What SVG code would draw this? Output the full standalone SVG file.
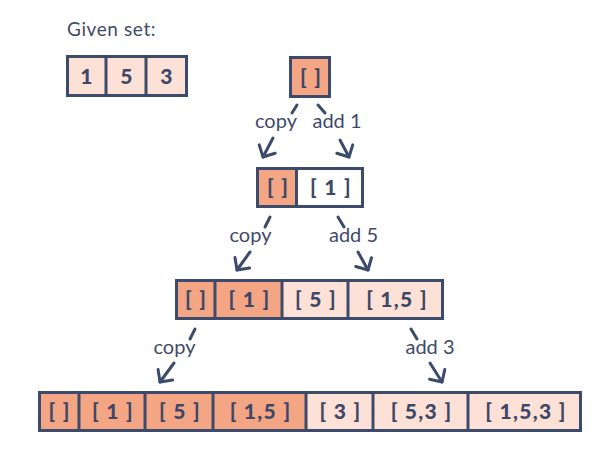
<svg xmlns="http://www.w3.org/2000/svg" width="615" height="460" viewBox="0 0 615 460">
<style>
.box{stroke:#3c4a6b;stroke-width:3;}
.dk{fill:#f4a584;}
.lt{fill:#fde1d7;}
.wh{fill:#ffffff;}
.div{stroke:#3c4a6b;stroke-width:3;}
.cell{font-family:Lato,"Open Sans","Liberation Sans",sans-serif;font-weight:900;font-size:21px;fill:#3d4868;text-anchor:middle;letter-spacing:1.3px;}
.lbl{font-family:Lato,"Open Sans","Liberation Sans",sans-serif;font-size:20px;fill:#3f4a6b;text-anchor:middle;}
.ttl{font-family:Lato,"Open Sans","Liberation Sans",sans-serif;font-size:19px;fill:#3f4a6b;letter-spacing:0.6px;}
.ar{stroke:#3c4a6b;stroke-width:3;stroke-linecap:round;fill:none;}
</style>
<defs>
<marker id="ah" markerUnits="userSpaceOnUse" markerWidth="24" markerHeight="24" refX="0" refY="0" viewBox="-12 -12 24 24" orient="auto" overflow="visible">
<path d="M-9,-9 L0,0 L-9,9" fill="none" stroke="#3c4a6b" stroke-width="3" stroke-linecap="round" stroke-linejoin="round"/>
</marker>
</defs>
<rect width="615" height="460" fill="#ffffff"/>
<text class="ttl" x="67" y="36">Given set:</text>

<g id="given">
<rect class="box lt" x="67.5" y="56.5" width="119" height="39"/>
<line class="div" x1="106" y1="56.5" x2="106" y2="95.5"/>
<line class="div" x1="146" y1="56.5" x2="146" y2="95.5"/>
<text class="cell" x="87" y="83.5">1</text>
<text class="cell" x="127" y="83.5">5</text>
<text class="cell" x="167" y="83.5">3</text>
</g>

<g id="row1">
<rect class="box dk" x="290.5" y="57.5" width="39" height="39"/>
<text class="cell" x="311" y="84.5">[ ]</text>
</g>

<g id="row2">
<rect class="box dk" x="257.5" y="168.5" width="39" height="38"/>
<rect class="box wh" x="296.5" y="168.5" width="66" height="38"/>
<text class="cell" x="278" y="195">[ ]</text>
<text class="cell" x="331" y="195">[ 1 ]</text>
</g>

<g id="row3">
<rect class="box lt" x="176.5" y="280.5" width="266" height="38"/>
<rect class="dk" x="178" y="282" width="104" height="35"/>
<line class="div" x1="215" y1="280.5" x2="215" y2="318.5"/>
<line class="div" x1="282" y1="280.5" x2="282" y2="318.5"/>
<line class="div" x1="348" y1="280.5" x2="348" y2="318.5"/>
<text class="cell" x="196" y="307">[ ]</text>
<text class="cell" x="249.5" y="307">[ 1 ]</text>
<text class="cell" x="316" y="307">[ 5 ]</text>
<text class="cell" x="397" y="307">[ 1,5 ]</text>
</g>

<g id="row4">
<rect class="box lt" x="39.5" y="392.5" width="541" height="38"/>
<rect class="dk" x="41" y="394" width="265" height="35"/>
<line class="div" x1="79" y1="392.5" x2="79" y2="430.5"/>
<line class="div" x1="145" y1="392.5" x2="145" y2="430.5"/>
<line class="div" x1="213" y1="392.5" x2="213" y2="430.5"/>
<line class="div" x1="306" y1="392.5" x2="306" y2="430.5"/>
<line class="div" x1="373" y1="392.5" x2="373" y2="430.5"/>
<line class="div" x1="468" y1="392.5" x2="468" y2="430.5"/>
<text class="cell" x="59.5" y="419">[ ]</text>
<text class="cell" x="113" y="419">[ 1 ]</text>
<text class="cell" x="180" y="419">[ 5 ]</text>
<text class="cell" x="260.5" y="419">[ 1,5 ]</text>
<text class="cell" x="340.5" y="419">[ 3 ]</text>
<text class="cell" x="421.5" y="419">[ 5,3 ]</text>
<text class="cell" x="526" y="419">[ 1,5,3 ]</text>
</g>

<g id="connectors">
<line class="ar" x1="297" y1="105" x2="292" y2="113"/>
<line class="ar" x1="273" y1="138" x2="263" y2="157" marker-end="url(#ah)"/>
<line class="ar" x1="318" y1="105" x2="325" y2="113"/>
<line class="ar" x1="340" y1="140" x2="349" y2="157" marker-end="url(#ah)"/>
<line class="ar" x1="270" y1="217" x2="265" y2="227"/>
<line class="ar" x1="250" y1="252" x2="237" y2="270" marker-end="url(#ah)"/>
<line class="ar" x1="338" y1="217" x2="344" y2="227"/>
<line class="ar" x1="358" y1="252" x2="368" y2="270" marker-end="url(#ah)"/>
<line class="ar" x1="195" y1="329" x2="190" y2="339"/>
<line class="ar" x1="174" y1="363" x2="160" y2="382" marker-end="url(#ah)"/>
<line class="ar" x1="411" y1="329" x2="417" y2="339"/>
<line class="ar" x1="430" y1="363" x2="442" y2="382" marker-end="url(#ah)"/>
<text class="lbl" x="276" y="128">copy</text>
<text class="lbl" x="337" y="128">add 1</text>
<text class="lbl" x="250.5" y="242">copy</text>
<text class="lbl" x="353.5" y="242">add 5</text>
<text class="lbl" x="174.5" y="354">copy</text>
<text class="lbl" x="430" y="354">add 3</text>
</g>
</svg>
